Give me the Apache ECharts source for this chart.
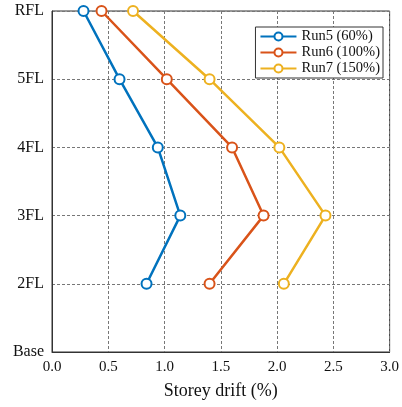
<!DOCTYPE html>
<html>
<head>
<meta charset="utf-8">
<script src="https://cdn.jsdelivr.net/npm/echarts@6/dist/echarts.min.js"></script>
<style>
html, body { margin: 0; padding: 0; background: #fff; }
#main { width: 402px; height: 407px; }
</style>
</head>
<body>
<div id="main"></div>
<script>
// 楼层 (纵轴)
var floors = ['Base', '2FL', '3FL', '4FL', '5FL', 'RFL'];
var xTicks = ['0.0', '0.5', '1.0', '1.5', '2.0', '2.5', '3.0'];
var seriesNames = ['Run5 (60%)', 'Run6 (100%)', 'Run7 (150%)'];
// 层间位移角 (%), 按 2FL..RFL
var run5 = [0.84, 1.14, 0.94, 0.60, 0.28];
var run6 = [1.40, 1.88, 1.60, 1.02, 0.44];
var run7 = [2.06, 2.43, 2.02, 1.40, 0.72];
var colors = ['#0072BD', '#D95319', '#EDB120'];

var font = 'Liberation Serif';

function pairs(vals) {
	return vals.map(function (v, i) { return [v, floors[i + 1]]; });
}

var myChart = echarts.init(document.getElementById('main'));

var option = {
	animation: false,
	color: colors,
	grid: {
		left: 52, right: 8, top: 11, bottom: 55,
		show: true, borderColor: '#333', borderWidth: 1
	},
	legend: {
		orient: 'vertical',
		right: 19, top: 27,
		data: seriesNames,
		borderColor: '#333', borderWidth: 1,
		backgroundColor: '#fff',
		padding: [2, 3, 2, 4],
		itemGap: 1,
		itemWidth: 36, itemHeight: 10,
		textStyle: { fontFamily: font, fontSize: 14.5, color: '#111' }
	},
	xAxis: {
		type: 'value',
		min: 0, max: 3, interval: 0.5,
		name: 'Storey drift (%)',
		nameLocation: 'middle',
		nameGap: 30,
		nameTextStyle: { fontFamily: font, fontSize: 18, color: '#111' },
		axisLine: { show: true, lineStyle: { color: '#333' } },
		axisTick: { show: false },
		axisLabel: {
			fontFamily: font, fontSize: 15, color: '#111', margin: 8,
			formatter: function (v) { return xTicks[Math.round(v / 0.5)]; }
		},
		splitLine: { show: true, lineStyle: { color: '#777', type: [3, 2], width: 1 } }
	},
	yAxis: {
		type: 'category',
		data: floors,
		boundaryGap: false,
		axisLine: { show: true, lineStyle: { color: '#333' } },
		axisTick: { show: false },
		axisLabel: { fontFamily: font, fontSize: 16, color: '#111', margin: 8 },
		splitLine: { show: true, lineStyle: { color: '#777', type: [3, 2], width: 1 } }
	},
	series: [run5, run6, run7].map(function (vals, i) {
		return {
			name: seriesNames[i],
			type: 'line',
			data: pairs(vals),
			symbol: 'emptyCircle',
			symbolSize: 10,
			lineStyle: { width: 2.5 },
			itemStyle: { borderWidth: 2.5 }
		};
	})
};

myChart.setOption(option);
</script>
</body>
</html>
